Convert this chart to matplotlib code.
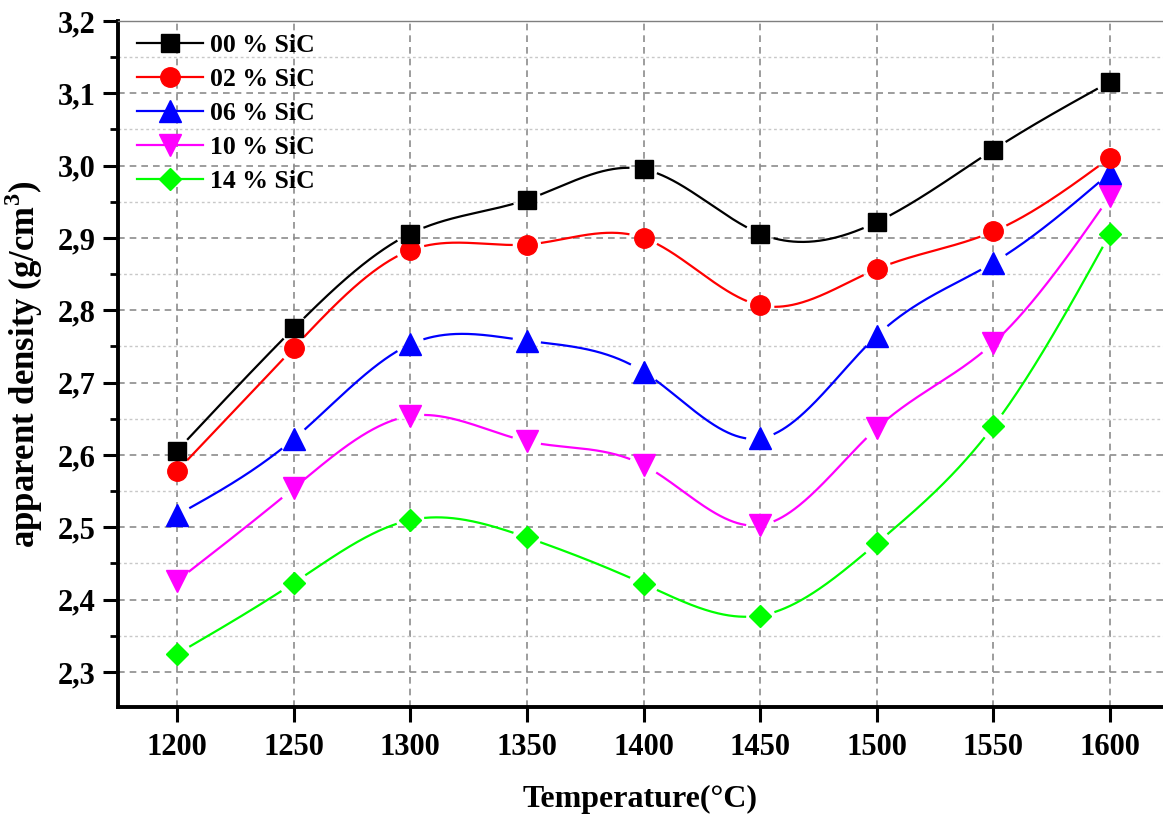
import numpy as np
import matplotlib
matplotlib.use("Agg")
import matplotlib.pyplot as plt
from matplotlib.ticker import MultipleLocator, FuncFormatter

# Sintering temperatures (°C)
temperature = [1200, 1250, 1300, 1350, 1400, 1450, 1500, 1550, 1600]

# Apparent density (g/cm3) for each SiC content
sic_00 = [2.606, 2.775, 2.906, 2.953, 2.995, 2.906, 2.922, 3.022, 3.116]
sic_02 = [2.578, 2.748, 2.883, 2.891, 2.900, 2.807, 2.857, 2.909, 3.011]
sic_06 = [2.517, 2.622, 2.753, 2.758, 2.715, 2.623, 2.765, 2.866, 2.990]
sic_10 = [2.426, 2.554, 2.654, 2.619, 2.586, 2.503, 2.637, 2.755, 2.958]
sic_14 = [2.325, 2.423, 2.510, 2.486, 2.422, 2.378, 2.478, 2.640, 2.906]

labels = ["00 % SiC", "02 % SiC", "06 % SiC", "10 % SiC", "14 % SiC"]
colors = ["#000000", "#FF0000", "#0000FF", "#FF00FF", "#00FF00"]
markers = ["s", "o", "^", "v", "D"]
msizes = [12.5, 14, 15.5, 15.5, 11.5]

plt.rcParams["font.family"] = ["Liberation Serif", "DejaVu Serif"]
plt.rcParams["font.weight"] = "bold"
plt.rcParams["mathtext.fontset"] = "custom"
plt.rcParams["mathtext.rm"] = "Liberation Serif:bold"
plt.rcParams["mathtext.bf"] = "Liberation Serif:bold"


def natural_spline(x, y, xs):
    """Natural cubic spline through (x, y), evaluated at xs."""
    x = np.asarray(x, float)
    y = np.asarray(y, float)
    n = len(x)
    h = np.diff(x)
    A = np.zeros((n, n))
    b = np.zeros(n)
    A[0, 0] = A[-1, -1] = 1.0
    for i in range(1, n - 1):
        A[i, i - 1] = h[i - 1]
        A[i, i] = 2 * (h[i - 1] + h[i])
        A[i, i + 1] = h[i]
        b[i] = 3 * ((y[i + 1] - y[i]) / h[i] - (y[i] - y[i - 1]) / h[i - 1])
    c = np.linalg.solve(A, b)
    out = np.empty_like(xs)
    for k, xv in enumerate(xs):
        i = min(max(np.searchsorted(x, xv) - 1, 0), n - 2)
        dx = xv - x[i]
        bi = (y[i + 1] - y[i]) / h[i] - h[i] * (2 * c[i] + c[i + 1]) / 3
        di = (c[i + 1] - c[i]) / (3 * h[i])
        out[k] = y[i] + bi * dx + c[i] * dx ** 2 + di * dx ** 3
    return out


fig = plt.figure(figsize=(11.63, 8.16), dpi=100)
ax = fig.add_axes([118 / 1163, 1 - 707 / 816, 1 - 118 / 1163, (707 - 21) / 816])
ax.set_xlim(1174.7, 1622.7)
ax.set_ylim(2.2516, 3.2)

# grid
ax.yaxis.set_major_locator(MultipleLocator(0.1))
ax.yaxis.set_minor_locator(MultipleLocator(0.05))
ax.set_xticks(temperature)
ax.grid(which="major", axis="both", color="#8c8c8c", linestyle=(0, (4, 3)), linewidth=1.2)
ax.grid(which="minor", axis="y", color="#c8c8c8", linestyle=(0, (2, 2)), linewidth=1.0)
ax.set_axisbelow(True)

fig.canvas.draw()
xs = np.linspace(temperature[0], temperature[-1], 1200)
series = [sic_00, sic_02, sic_06, sic_10, sic_14]
gap = 15.0  # px cleared around each marker

for k, (vals, col, mk, ms, lab) in enumerate(zip(series, colors, markers, msizes, labels)):
    ys = natural_spline(temperature, vals, xs)
    pts = ax.transData.transform(np.column_stack([xs, ys]))
    mpts = ax.transData.transform(np.column_stack([temperature, vals]))
    d = np.min(np.hypot(pts[:, None, 0] - mpts[None, :, 0],
                        pts[:, None, 1] - mpts[None, :, 1]), axis=1)
    ys_gapped = np.where(d < gap, np.nan, ys)
    ax.plot(xs, ys_gapped, color=col, linewidth=1.6, zorder=3)
    # first series sits on top where markers overlap
    ax.plot(temperature, vals, linestyle="none", marker=mk, markersize=ms,
            color=col, markeredgecolor=col, zorder=10 - k)
    ax.plot([], [], color=col, linewidth=1.6, marker=mk, markersize=ms,
            markeredgecolor=col, label=lab)

yfmt = FuncFormatter(lambda v, p: f"{v:.1f}".replace(".", ","))
ax.yaxis.set_major_formatter(yfmt)
ax.set_yticks(np.round(np.arange(2.3, 3.21, 0.1), 2))

for s in ["left", "bottom"]:
    ax.spines[s].set_linewidth(2.8)
    ax.spines[s].set_color("black")
ax.spines["right"].set_visible(False)
ax.spines["top"].set_color("#7f7f7f")
ax.spines["top"].set_linewidth(1.0)

ax.tick_params(axis="both", which="major", direction="out", length=11, width=2.2,
               labelsize=22, top=False, right=False)
ax.tick_params(axis="y", which="major", pad=5)
ax.tick_params(axis="x", which="major", pad=8)
ax.tick_params(axis="y", which="minor", direction="out", length=6, width=2.0)
ax.tick_params(axis="x", which="minor", bottom=False)
for t in ax.get_xticklabels() + ax.get_yticklabels():
    t.set_fontweight("bold")

ax.set_xlabel("Temperature(°C)", fontsize=23, fontweight="bold", labelpad=16)
ax.set_ylabel(r"apparent density (g/cm$^{3}$)", fontsize=25, fontweight="bold", labelpad=9)

leg = ax.legend(loc="upper left", frameon=False, fontsize=18.5, handlelength=2.6,
                handletextpad=0.25, labelspacing=0.43, borderaxespad=0.2,
                bbox_to_anchor=(0.003, 1.004))
for t in leg.get_texts():
    t.set_fontweight("bold")

fig.savefig("out.png", dpi=100)
